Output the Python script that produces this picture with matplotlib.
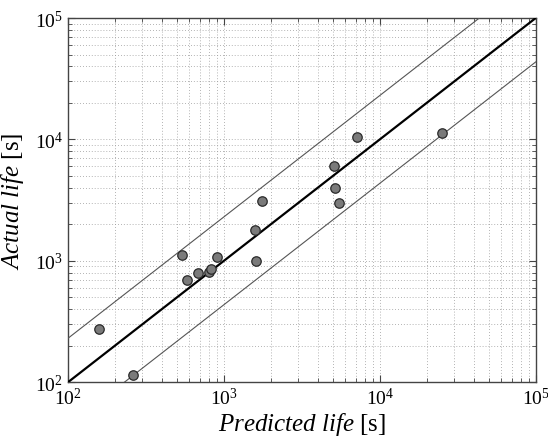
import numpy as np
import matplotlib
matplotlib.use("Agg")
import matplotlib.pyplot as plt
import matplotlib.transforms as mtransforms
from matplotlib.ticker import LogLocator, FixedLocator, NullFormatter

# predicted vs actual life
predicted = [159, 260, 539, 582, 681, 802, 826, 897, 1589, 1603, 1746, 5050, 5160, 5480, 7096, 25200]
actual = [275, 115, 1107, 689, 796, 807, 859, 1079, 1803, 995, 3110, 6070, 3945, 3007, 10470, 11300]

decades = [1e2, 1e3, 1e4, 1e5]
decade_labels = [r"$\mathregular{10^{2}}$", r"$\mathregular{10^{3}}$",
                 r"$\mathregular{10^{4}}$", r"$\mathregular{10^{5}}$"]
band = 2.3

plt.rcParams["font.family"] = ["Liberation Serif", "DejaVu Serif"]
plt.rcParams["mathtext.fontset"] = "custom"
plt.rcParams["mathtext.rm"] = "Liberation Serif"
plt.rcParams["mathtext.it"] = "Liberation Serif:italic"

fig = plt.figure(figsize=(5.48, 4.39), dpi=100)
ax = fig.add_axes([0.124, 0.127, 0.8536, 0.8297])
ax.set_xscale("log")
ax.set_yscale("log")

ref = np.array([1e2, 1e5])
ax.plot(ref, ref, color="black", lw=1.6, zorder=3)
ax.plot(ref, ref * band, color="#555555", lw=0.8, zorder=3)
ax.plot(ref, ref / band, color="#555555", lw=0.8, zorder=3)

ax.plot(predicted, actual, "o", ms=6.8, mfc="#7a7a7a", mec="#2a2a2a", mew=0.9, zorder=4)

ax.set_xlim(1e2, 1e5)
ax.set_ylim(1e2, 1e5)

for axis in (ax.xaxis, ax.yaxis):
    axis.set_major_locator(FixedLocator(decades))
    axis.set_minor_locator(LogLocator(base=10, subs=np.arange(2, 10)))
    axis.set_minor_formatter(NullFormatter())
ax.set_xticklabels(decade_labels)
ax.set_yticklabels(decade_labels)

# centre the "10" (not the whole label) under each x tick, like the original
shift = mtransforms.ScaledTranslation(3 / 100, 0, fig.dpi_scale_trans)
for lbl in ax.get_xticklabels():
    lbl.set_transform(lbl.get_transform() + shift)

ax.grid(True, which="both", linestyle=(0, (1, 2.5)), color="#9a9a9a", lw=0.6)
ax.tick_params(which="both", direction="in", top=True, right=True, colors="#444444",
               labelcolor="black", labelsize=14)
ax.tick_params(which="major", length=5, width=0.8)
ax.tick_params(which="minor", length=3, width=0.6)
ax.tick_params(axis="x", pad=3)
for s in ax.spines.values():
    s.set_color("#444444")
    s.set_linewidth(1.0)

ax.set_xlabel(r"$\mathit{Predicted\ life}$ [s]", fontsize=18, labelpad=2)
ax.set_ylabel(r"$\mathit{Actual\ life}$ [s]", fontsize=18, labelpad=6)

fig.savefig("out.png", dpi=100)
